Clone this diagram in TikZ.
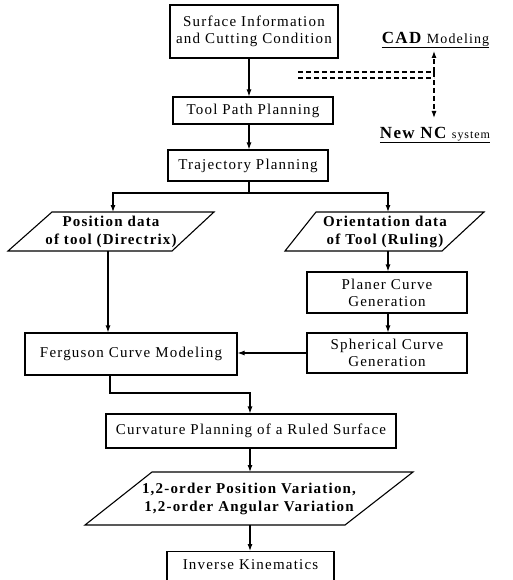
\documentclass[tikz,border=0pt]{standalone}
\usepackage{fontspec}
\setmainfont{Liberation Serif}[LetterSpace=8]
\usetikzlibrary{arrows.meta}
\begin{document}
\begin{tikzpicture}[x=1pt,y=-1pt,
  box/.style={draw, line width=1.1pt, rectangle, inner sep=0pt, align=center, font=\fontsize{15}{17}\selectfont},
  ptext/.style={inner sep=0pt, align=center, font=\fontsize{15}{18}\selectfont\bfseries},
  conn/.style={line width=1.1pt, -{Latex[length=7pt,width=5pt]}},
  plain/.style={line width=1.1pt},
  dashln/.style={line width=1.1pt, dash pattern=on 5pt off 3pt},
  dasharr/.style={line width=1.1pt, dash pattern=on 5pt off 3pt, -{Latex[length=7pt,width=5pt]}},
  uline/.style={line width=1pt}
]
\path[use as bounding box] (0,0) rectangle (512,580);
\clip (0,0) rectangle (512,580);

% axis coordinates
\coordinate (ax) at (249,0);
\coordinate (br) at (249,193);
\coordinate (fk) at (250,393);

% boxes
\node[box, minimum width=168, minimum height=53] (b1) at (254,31.5) {Surface Information\\and Cutting Condition};
\node[box, minimum width=160, minimum height=27] (b2) at (253,110.5) {Tool Path Planning};
\node[box, minimum width=160, minimum height=31] (b3) at (248,165.5) {Trajectory Planning};
\node[box, minimum width=160, minimum height=41] (pc) at (387,292.5) {Planer Curve\\Generation};
\node[box, minimum width=160, minimum height=40] (sc) at (387,353) {Spherical Curve\\Generation};
\node[box, minimum width=212, minimum height=42] (fer) at (131,354) {Ferguson Curve Modeling};
\node[box, minimum width=290, minimum height=34] (cur) at (251,431) {Curvature Planning of a Ruled Surface};
\node[box, minimum width=167, minimum height=50, anchor=north] (ik) at (250.5,551) {};
\node[inner sep=0pt, font=\fontsize{15}{17}\selectfont] (ikt) at (250.5,565) {Inverse Kinematics};

% parallelograms
\draw[plain] (52,212) -- (214,212) -- (172,251) -- (8,251) -- cycle;
\node[ptext] (pl) at (111,231.5) {Position data\\of tool (Directrix)};
\coordinate (plt) at (113,212);
\coordinate (plb) at (108,251);

\draw[plain] (316,212) -- (484,212) -- (442,251) -- (285,251) -- cycle;
\node[ptext] (pr) at (385,231.5) {Orientation data\\of Tool (Ruling)};
\coordinate (prt) at (388,212);
\coordinate (prb) at (388,251);

\draw[plain] (152,472) -- (413,472) -- (345,525) -- (85,525) -- cycle;
\node[ptext] (pb) at (249,498.5) {1,2-order Position Variation,\\1,2-order Angular Variation};
\coordinate (pbt) at (250,472);
\coordinate (pbb) at (250,525);

% connectors
\draw[conn] (b1.south -| ax) -- (b2.north -| ax);
\draw[conn] (b2.south -| ax) -- (b3.north -| ax);
\draw[plain] (b3.south -| br) -- (br);
\draw[conn] (br) -| (plt);
\draw[conn] (br) -| (prt);
\draw[conn] (prb) -- (pc.north -| prb);
\draw[conn] (pc.south -| prb) -- (sc.north -| prb);
\draw[conn] (sc.west) -- (sc.west -| fer.east);
\draw[conn] (plb) -- (fer.north -| plb);
\draw[conn] (fer.south -| 110,0) |- (fk) -- (cur.north -| fk);
\draw[conn] (cur.south -| pbt) -- (pbt);
\draw[conn] (pbb) -- (ik.north -| pbb);

% side legend
\node[anchor=base, inner sep=0pt] (cad) at (435.5,44) {\fontsize{17}{17}\selectfont\bfseries CAD\ \fontsize{14}{14}\selectfont\mdseries Modeling};
\draw[uline] ([yshift=-4pt]cad.base west) -- ([yshift=-4pt]cad.base east);
\node[anchor=base, inner sep=0pt] (nnc) at (435,139) {\fontsize{17}{17}\selectfont\bfseries New NC\ \fontsize{12}{12}\selectfont\mdseries system};
\draw[uline] ([yshift=-4pt]nnc.base west) -- ([yshift=-4pt]nnc.base east);

\coordinate (d1s) at (298,72);
\coordinate (d1e) at (434,72);
\coordinate (d2s) at (298,78);
\coordinate (d2e) at (434,78);
\coordinate (cadarr) at (434,51);
\coordinate (ncarr) at (434,118);
\draw[dashln] (d1s) -- (d1e);
\draw[dashln] (d2s) -- (d2e);
\draw[dasharr] (d1e) -- (cadarr);
\draw[dasharr] (d1e) -- (ncarr);
\end{tikzpicture}
\end{document}
